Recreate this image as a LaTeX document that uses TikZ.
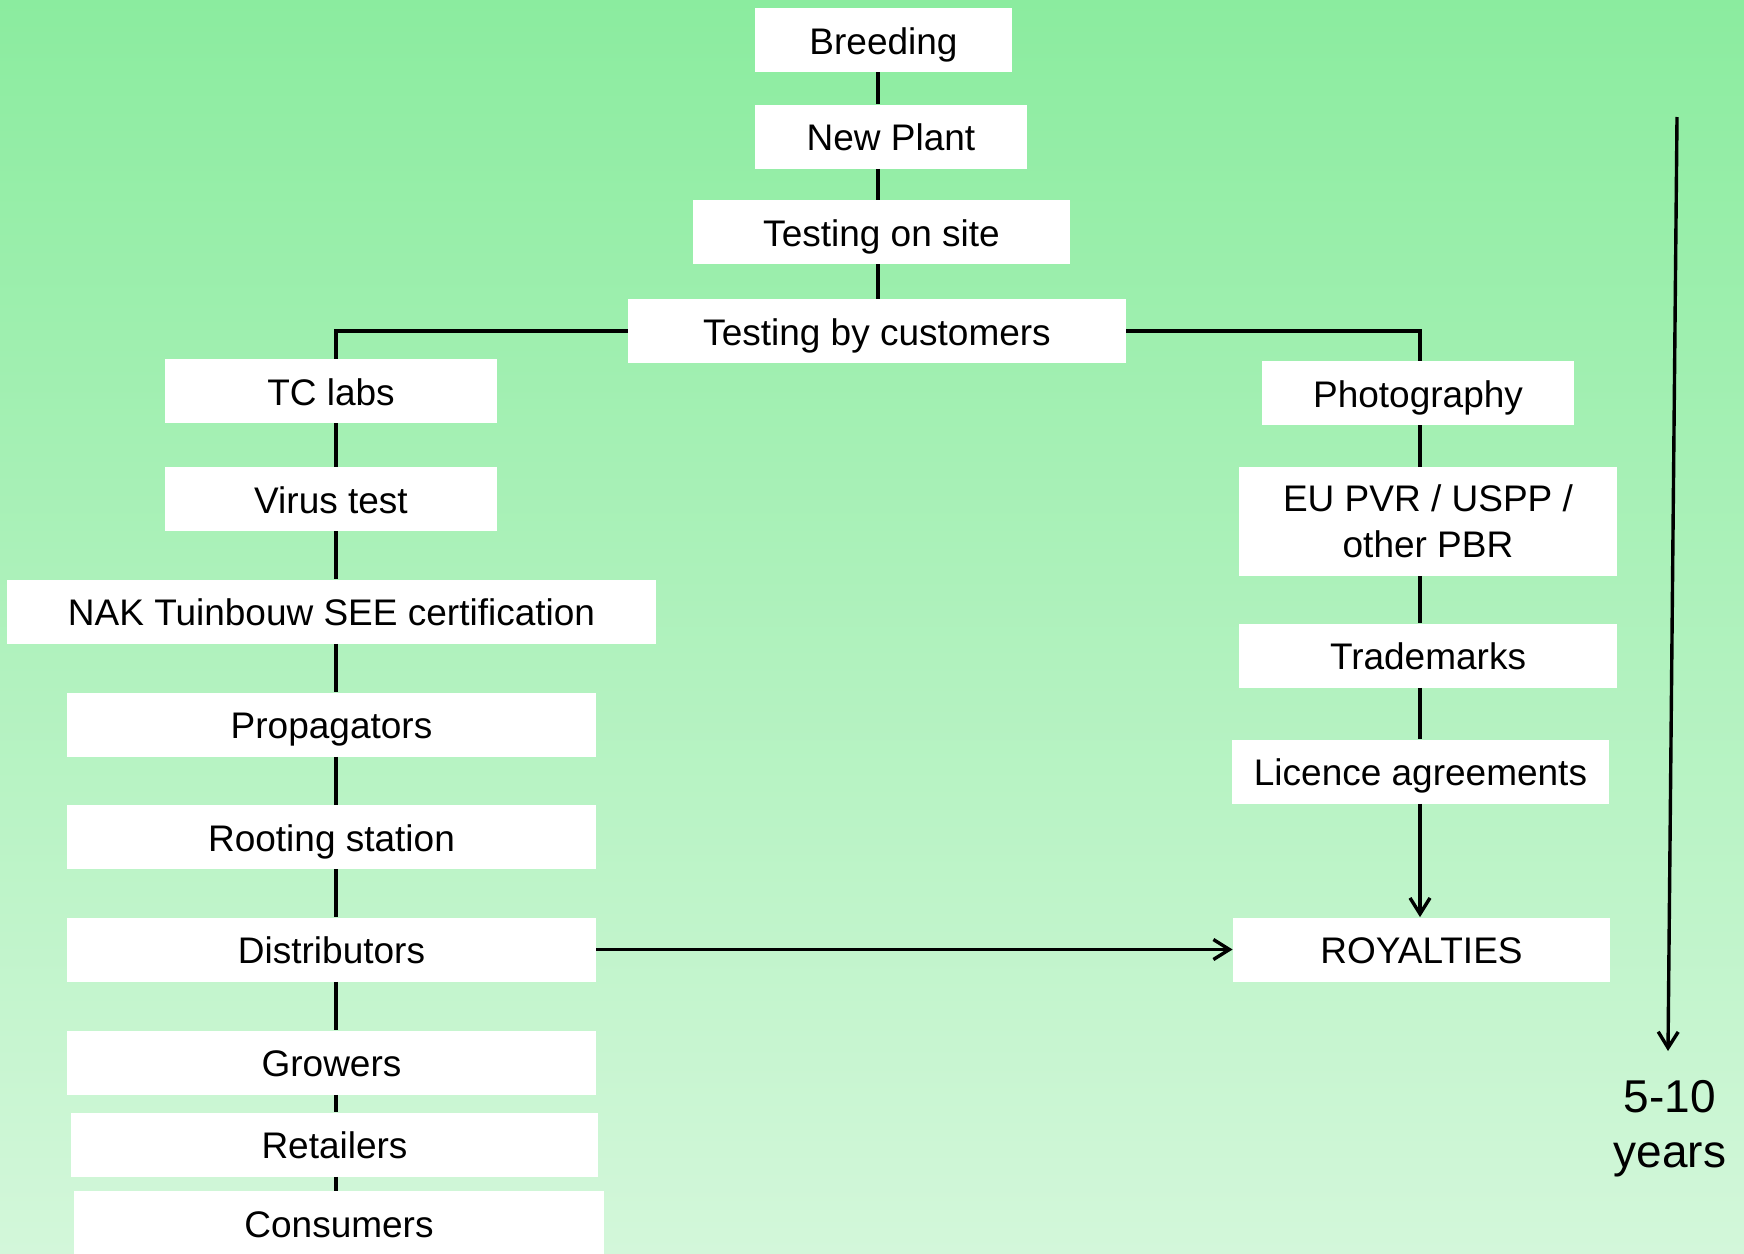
\documentclass[tikz,border=0pt]{standalone}
\usepackage{fontspec}
\setmainfont{Liberation Sans}
\usetikzlibrary{arrows.meta}
\definecolor{bgtop}{RGB}{139,236,159}
\definecolor{bgbottom}{RGB}{211,247,218}
\tikzset{
  stage/.style={
    fill=white,
    inner sep=0pt,
    minimum height=32pt,
    align=center,
    font=\fontsize{18.5}{22.8}\selectfont
  },
  oneline/.style={
    stage,
    text height=15.4pt,
    text depth=1pt
  },
  link/.style={
    line width=1.9pt
  },
  flow/.style={
    line width=1.7pt,
    -{Straight Barb[length=8pt,width=10pt]}
  }
}

\begin{document}
\begin{tikzpicture}[x=0.5pt,y=-0.5pt]
        \useasboundingbox (0,0) rectangle (1744,1253);
        \shade[top color=bgtop, bottom color=bgbottom] (0,0) rectangle (1744,1253);
        \coordinate (ccol) at (878,0);
        \coordinate (lcol) at (336,0);
        \coordinate (rcol) at (1420,0);
        \node[oneline, minimum width=128.5pt] (breed) at (883.5,40) {Breeding};
        \node[oneline, minimum width=136pt] (newplant) at (891,136.5) {New Plant};
        \node[oneline, minimum width=188.5pt] (onsite) at (881.5,232) {Testing on site};
        \node[oneline, minimum width=249pt] (cust) at (877,331) {Testing by customers};
        \node[oneline, minimum width=166pt] (tclabs) at (331,391) {TC labs};
        \node[oneline, minimum width=166pt] (virus) at (331,499) {Virus test};
        \node[oneline, minimum width=324.5pt] (nak) at (331.5,611.5) {NAK Tuinbouw SEE certification};
        \node[oneline, minimum width=264.5pt] (propag) at (331.5,724.5) {Propagators};
        \node[oneline, minimum width=264.5pt] (rooting) at (331.5,837) {Rooting station};
        \node[oneline, minimum width=264.5pt] (distrib) at (331.5,949.5) {Distributors};
        \node[oneline, minimum width=264.5pt] (growers) at (331.5,1062.5) {Growers};
        \node[oneline, minimum width=263.5pt] (retail) at (334.5,1144.5) {Retailers};
        \node[oneline, minimum width=265pt] (consum) at (339,1223) {Consumers};
        \node[oneline, minimum width=156pt] (photo) at (1418,393) {Photography};
        \node[stage, minimum width=189pt, minimum height=54.5pt] (eupvr) at (1428,521.5) {EU PVR / USPP /\\other PBR};
        \node[oneline, minimum width=189pt] (trade) at (1428,655.5) {Trademarks};
        \node[oneline, minimum width=188.5pt] (licence) at (1420.5,771.5) {Licence agreements};
        \node[oneline, minimum width=188.5pt] (royal) at (1421.5,949.5) {ROYALTIES};
        \draw[link] (breed.south -| ccol)--(newplant.north -| ccol);
        \draw[link] (newplant.south -| ccol)--(onsite.north -| ccol);
        \draw[link] (onsite.south -| ccol)--(cust.north -| ccol);
        \draw[link] (cust.west)--(cust.west -| lcol)--(tclabs.north -| lcol);
        \draw[link] (cust.east)--(cust.east -| rcol)--(photo.north -| rcol);
        \foreach \a/\b in {tclabs/virus,virus/nak,nak/propag,propag/rooting,rooting/distrib,distrib/growers,growers/retail,retail/consum}
          \draw[link] (\a.south -| lcol)--(\b.north -| lcol);
        \foreach \a/\b in {photo/eupvr,eupvr/trade,trade/licence}
          \draw[link] (\a.south -| rcol)--(\b.north -| rcol);
        \draw[flow] (licence.south -| rcol)--(royal.north -| rcol);
        \draw[flow] (distrib)--(royal);
        \coordinate (tstart) at (1677,117);
        \coordinate (tend) at (1668,1051);
        \draw[flow] (tstart)--(tend);
        \node[align=center, font=\fontsize{23}{27.5}\selectfont] (span) at (1670,1129) {5-10\\years};
    \end{tikzpicture}
\end{document}
